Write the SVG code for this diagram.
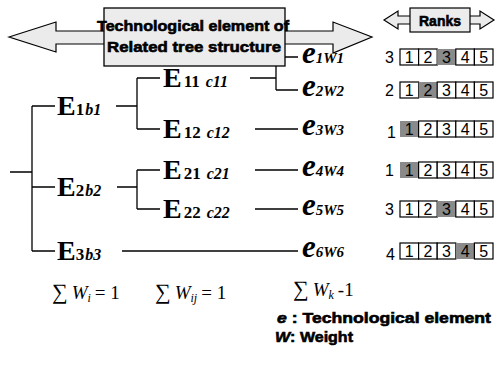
<svg xmlns="http://www.w3.org/2000/svg" width="498" height="370" viewBox="0 0 498 370">
<style>
.ln{stroke:#000;stroke-width:1.3;fill:none}
.arr{fill:#ebebeb;stroke:#000;stroke-width:1.2}
.hdr{font-family:"Liberation Sans",Arial,sans-serif;font-weight:bold;font-size:15px;fill:#000;stroke:#000;stroke-width:0.6}
.E{font-family:"Liberation Serif","Times New Roman",serif;font-weight:bold;fill:#000}
.Eb{font-size:28px}
.Es{font-size:17px}
.Ei{font-size:16px;font-style:italic}
.e{font-family:"Liberation Serif","Times New Roman",serif;font-weight:bold;font-style:italic;fill:#000}
.eb{font-size:31px}
.es{font-size:15px}
.num{font-family:"Liberation Sans",Arial,sans-serif;font-size:16px;fill:#000}
.box{fill:#fff;stroke:#000;stroke-width:1.2}
.hi{fill:#8a8a8a}
.sum{font-family:"Liberation Serif","Times New Roman",serif;font-size:19px;fill:#000}
</style>
<rect width="498" height="370" fill="#fff"/>

<g id="title">
<path class="arr" d="M9,37 L56,22 L56,31 L333,31 L333,22 L372,37 L333,53 L333,44 L56,44 L56,52 Z"/>
<rect x="104" y="8" width="181" height="58" fill="#ececec" stroke="#000" stroke-width="1.3"/>
<text class="hdr" x="97" y="31" textLength="192" lengthAdjust="spacingAndGlyphs">Technological element of</text>
<text class="hdr" x="107" y="52" textLength="174" lengthAdjust="spacingAndGlyphs">Related tree structure</text>
</g>

<g id="ranks-header">
<path class="arr" d="M384,20 L398,11 L398,16 L480,16 L480,11 L494,20 L480,29 L480,24 L398,24 L398,29 Z"/>
<rect x="410" y="8" width="60" height="24" fill="#ececec" stroke="#000" stroke-width="1.2"/>
<text class="hdr" x="440" y="26" text-anchor="middle" font-size="14" textLength="42" lengthAdjust="spacingAndGlyphs">Ranks</text>
</g>

<g id="connectors">
<path class="ln" d="M10,172 H32 M32,106 V251 M32,106 H55 M32,187 H55 M32,251 H55"/>
<path class="ln" d="M116,106 H137 M137,78 V129 M137,78 H160 M137,129 H160"/>
<path class="ln" d="M250,78 H276 M276,66 V90 M276,90 H298 M285,57 H298"/>
<path class="ln" d="M255,129 H298"/>
<path class="ln" d="M117,187 H137 M137,170 V209 M137,170 H160 M137,209 H160"/>
<path class="ln" d="M255,170 H298 M255,209 H298"/>
<path class="ln" d="M122,251 H298"/>
</g>

<g id="E1"><text class="E" x="57" y="115"><tspan class="Eb">E</tspan><tspan class="Es">1</tspan><tspan class="Ei" dx="1">b1</tspan></text></g>
<g id="E11"><text class="E" x="163" y="87"><tspan class="Eb">E</tspan><tspan class="Es" dx="2">11</tspan><tspan class="Ei" dx="6">c11</tspan></text></g>
<g id="E12"><text class="E" x="163" y="138"><tspan class="Eb">E</tspan><tspan class="Es" dx="2">12</tspan><tspan class="Ei" dx="6">c12</tspan></text></g>
<g id="E2"><text class="E" x="57" y="196"><tspan class="Eb">E</tspan><tspan class="Es">2</tspan><tspan class="Ei" dx="1">b2</tspan></text></g>
<g id="E21"><text class="E" x="163" y="179"><tspan class="Eb">E</tspan><tspan class="Es" dx="2">21</tspan><tspan class="Ei" dx="6">c21</tspan></text></g>
<g id="E22"><text class="E" x="163" y="218"><tspan class="Eb">E</tspan><tspan class="Es" dx="2">22</tspan><tspan class="Ei" dx="6">c22</tspan></text></g>
<g id="E3"><text class="E" x="57" y="260"><tspan class="Eb">E</tspan><tspan class="Es">3</tspan><tspan class="Ei" dx="1">b3</tspan></text></g>

<g id="e1">
<text class="e" x="302" y="63"><tspan class="eb">e</tspan><tspan class="es">1W1</tspan></text>
<text class="num" x="385" y="63">3</text>
<rect class="box" x="400" y="49" width="18.6" height="16"/><rect class="box" x="418.6" y="49" width="18.6" height="16"/><rect class="hi" x="437.2" y="49" width="18.6" height="16"/><rect class="box" x="455.8" y="49" width="18.6" height="16"/><rect class="box" x="474.4" y="49" width="18.6" height="16"/>
<text class="num" x="409.3" y="63" text-anchor="middle">1</text><text class="num" x="427.9" y="63" text-anchor="middle">2</text><text class="num" x="446.5" y="63" text-anchor="middle">3</text><text class="num" x="465.1" y="63" text-anchor="middle">4</text><text class="num" x="483.7" y="63" text-anchor="middle">5</text>
</g>
<g id="e2">
<text class="e" x="302" y="96"><tspan class="eb">e</tspan><tspan class="es">2W2</tspan></text>
<text class="num" x="385" y="96">2</text>
<rect class="box" x="400" y="82" width="18.6" height="16"/><rect class="hi" x="418.6" y="82" width="18.6" height="16"/><rect class="box" x="437.2" y="82" width="18.6" height="16"/><rect class="box" x="455.8" y="82" width="18.6" height="16"/><rect class="box" x="474.4" y="82" width="18.6" height="16"/>
<text class="num" x="409.3" y="96" text-anchor="middle">1</text><text class="num" x="427.9" y="96" text-anchor="middle">2</text><text class="num" x="446.5" y="96" text-anchor="middle">3</text><text class="num" x="465.1" y="96" text-anchor="middle">4</text><text class="num" x="483.7" y="96" text-anchor="middle">5</text>
</g>
<g id="e3">
<text class="e" x="302" y="135"><tspan class="eb">e</tspan><tspan class="es">3W3</tspan></text>
<text class="num" x="387" y="138">1</text>
<rect class="hi" x="400" y="121" width="18.6" height="16"/><rect class="box" x="418.6" y="121" width="18.6" height="16"/><rect class="box" x="437.2" y="121" width="18.6" height="16"/><rect class="box" x="455.8" y="121" width="18.6" height="16"/><rect class="box" x="474.4" y="121" width="18.6" height="16"/>
<text class="num" x="409.3" y="135" text-anchor="middle">1</text><text class="num" x="427.9" y="135" text-anchor="middle">2</text><text class="num" x="446.5" y="135" text-anchor="middle">3</text><text class="num" x="465.1" y="135" text-anchor="middle">4</text><text class="num" x="483.7" y="135" text-anchor="middle">5</text>
</g>
<g id="e4">
<text class="e" x="302" y="176"><tspan class="eb">e</tspan><tspan class="es">4W4</tspan></text>
<text class="num" x="385" y="176">1</text>
<rect class="hi" x="400" y="162" width="18.6" height="16"/><rect class="box" x="418.6" y="162" width="18.6" height="16"/><rect class="box" x="437.2" y="162" width="18.6" height="16"/><rect class="box" x="455.8" y="162" width="18.6" height="16"/><rect class="box" x="474.4" y="162" width="18.6" height="16"/>
<text class="num" x="409.3" y="176" text-anchor="middle">1</text><text class="num" x="427.9" y="176" text-anchor="middle">2</text><text class="num" x="446.5" y="176" text-anchor="middle">3</text><text class="num" x="465.1" y="176" text-anchor="middle">4</text><text class="num" x="483.7" y="176" text-anchor="middle">5</text>
</g>
<g id="e5">
<text class="e" x="302" y="215"><tspan class="eb">e</tspan><tspan class="es">5W5</tspan></text>
<text class="num" x="385" y="215">3</text>
<rect class="box" x="400" y="201" width="18.6" height="16"/><rect class="box" x="418.6" y="201" width="18.6" height="16"/><rect class="hi" x="437.2" y="201" width="18.6" height="16"/><rect class="box" x="455.8" y="201" width="18.6" height="16"/><rect class="box" x="474.4" y="201" width="18.6" height="16"/>
<text class="num" x="409.3" y="215" text-anchor="middle">1</text><text class="num" x="427.9" y="215" text-anchor="middle">2</text><text class="num" x="446.5" y="215" text-anchor="middle">3</text><text class="num" x="465.1" y="215" text-anchor="middle">4</text><text class="num" x="483.7" y="215" text-anchor="middle">5</text>
</g>
<g id="e6">
<text class="e" x="302" y="257"><tspan class="eb">e</tspan><tspan class="es">6W6</tspan></text>
<text class="num" x="386" y="260">4</text>
<rect class="box" x="400" y="243" width="18.6" height="16"/><rect class="box" x="418.6" y="243" width="18.6" height="16"/><rect class="box" x="437.2" y="243" width="18.6" height="16"/><rect class="hi" x="455.8" y="243" width="18.6" height="16"/><rect class="box" x="474.4" y="243" width="18.6" height="16"/>
<text class="num" x="409.3" y="257" text-anchor="middle">1</text><text class="num" x="427.9" y="257" text-anchor="middle">2</text><text class="num" x="446.5" y="257" text-anchor="middle">3</text><text class="num" x="465.1" y="257" text-anchor="middle">4</text><text class="num" x="483.7" y="257" text-anchor="middle">5</text>
</g>

<g id="legend">
<text class="sum" x="52" y="299"><tspan font-size="22">∑</tspan><tspan font-style="italic" dx="4">W</tspan><tspan font-style="italic" font-size="12" dy="3">i</tspan><tspan dy="-3" dx="4">= 1</tspan></text>
<text class="sum" x="155" y="299"><tspan font-size="22">∑</tspan><tspan font-style="italic" dx="4">W</tspan><tspan font-style="italic" font-size="12" dy="3">ij</tspan><tspan dy="-3" dx="4">= 1</tspan></text>
<text class="sum" x="293" y="296"><tspan font-size="22">∑</tspan><tspan font-style="italic" dx="4">W</tspan><tspan font-style="italic" font-size="12" dy="3">k</tspan><tspan dy="-3" dx="4">-1</tspan></text>
<text class="hdr" x="277" y="323" font-size="15" textLength="214" lengthAdjust="spacingAndGlyphs"><tspan font-style="italic">e</tspan> :  Technological element</text>
<text class="hdr" x="275" y="342" font-size="15" textLength="78" lengthAdjust="spacingAndGlyphs"><tspan font-style="italic">W</tspan>:  Weight</text>
</g>
</svg>
